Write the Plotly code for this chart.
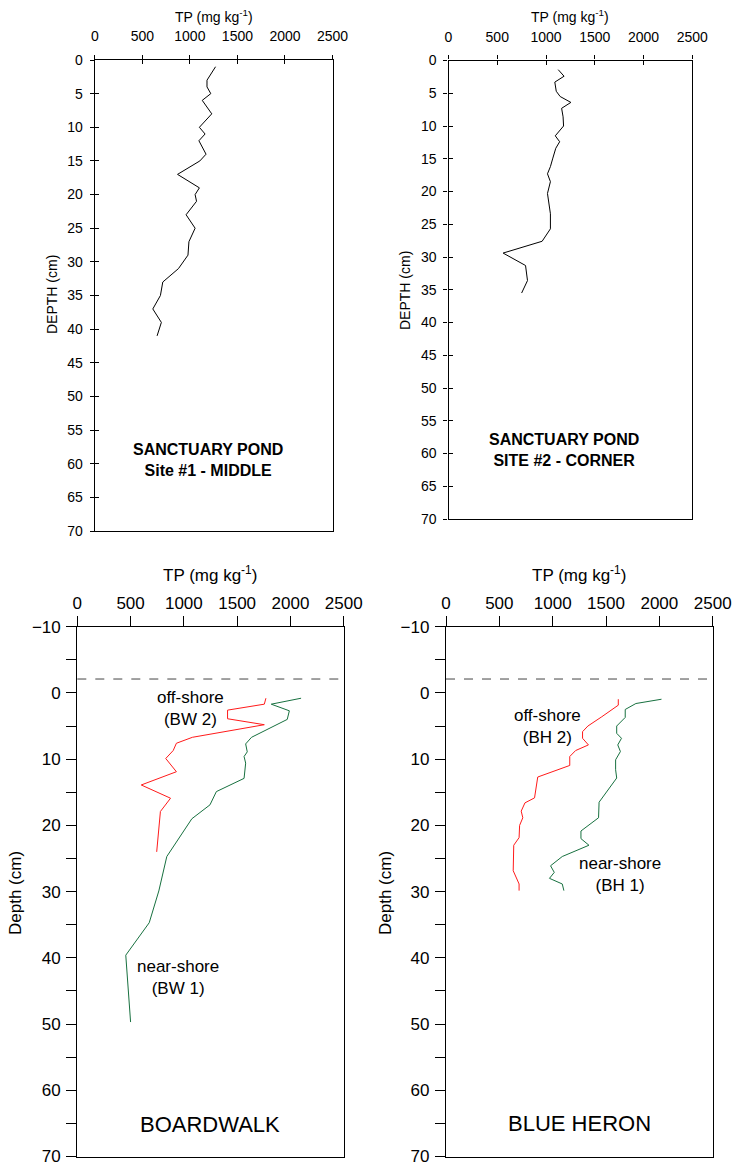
import plotly.graph_objects as go

# ---------------- data ----------------
tl_depth = [1, 3, 4, 5, 6, 8, 10, 11, 12, 14, 15, 17, 19, 20, 21, 23, 25, 27, 29, 31, 33, 35, 37, 39, 41]
tl_tp = [1270, 1180, 1180, 1220, 1130, 1230, 1100, 1160, 1095, 1170, 1105, 870, 1100, 1055, 1070, 960,
         1055, 990, 980, 880, 715, 690, 610, 700, 655]

tr_depth = [1.4, 2.4, 3.3, 4.7, 5.5, 6.4, 7.3, 8.6, 10.0, 11.5, 12.4, 13.4, 14.9, 16.2, 17.3, 18.5, 20.3,
            23.4, 25.7, 27.6, 29.4, 31.3, 33.6, 35.5]
tr_tp = [1125, 1185, 1090, 1105, 1145, 1255, 1160, 1175, 1180, 1095, 1140, 1100, 1070, 1045, 1015, 1045,
         1015, 1045, 1045, 960, 560, 790, 810, 750]

bw2_depth = [0.8, 1.7, 2.6, 3.9, 4.8, 6.7, 7.6, 8.7, 9.9, 11.9, 13.9, 15.9, 17.9, 24.0]
bw2_tp = [1770, 1755, 1410, 1410, 1755, 1080, 930, 900, 830, 930, 600, 875, 780, 745]

bw1_depth = [0.8, 1.7, 2.7, 4.0, 6.7, 7.7, 8.9, 9.6, 10.6, 12.9, 14.9, 16.9, 19.0, 24.7, 29.9, 34.7,
             39.6, 44.6, 49.7]
bw1_tp = [2100, 1820, 1990, 1970, 1635, 1580, 1595, 1565, 1580, 1565, 1305, 1245, 1075, 840, 765, 675,
          455, 475, 500]

bh2_depth = [0.95, 1.85, 3.6, 5.0, 5.85, 6.85, 7.85, 8.7, 9.6, 10.95, 12.7, 15.85, 16.6, 17.85, 18.85,
             20.0, 21.85, 23.0, 26.85, 27.85, 28.85, 29.85]
bh2_tp = [1615, 1615, 1460, 1330, 1280, 1280, 1335, 1215, 1160, 1160, 860, 830, 740, 705, 720, 690,
          685, 635, 630, 655, 685, 685]

bh1_depth = [0.95, 1.6, 2.5, 3.7, 5.0, 6.1, 6.85, 7.85, 8.85, 10.1, 11.6, 12.85, 16.5, 18.85, 20.85,
             22.0, 23.0, 24.7, 26.1, 27.1, 28.0, 28.85, 29.85]
bh1_tp = [2020, 1780, 1680, 1680, 1600, 1600, 1645, 1610, 1635, 1590, 1590, 1600, 1435, 1430, 1265,
          1265, 1340, 1090, 980, 1015, 970, 1090, 1105]

water_depth = -2.1
tp_range = [0, 2500]
tp_ticks = [0, 500, 1000, 1500, 2000, 2500]

# ---------------- layout helpers ----------------
W, H = 735, 1166
FONT = "Liberation Sans, Arial, Helvetica, sans-serif"


def px_x(a, b):
    return [a / W, b / W]


def px_y(top, bottom):
    return [1 - bottom / H, 1 - top / H]


dom = {
    1: (px_x(94.8, 332.5), px_y(60, 531)),
    2: (px_x(448.5, 692.3), px_y(60.5, 519)),
    3: (px_x(77.3, 343.7), px_y(626.7, 1156.5)),
    4: (px_x(446, 712.7), px_y(626.7, 1156.5)),
}

fig = go.Figure()

BLACK = "#000000"
RED = "#ff1a1a"
GREEN = "#17703f"

fig.add_trace(go.Scatter(x=tl_tp, y=tl_depth, mode="lines", line=dict(color=BLACK, width=1),
                         xaxis="x", yaxis="y", showlegend=False))
fig.add_trace(go.Scatter(x=tr_tp, y=tr_depth, mode="lines", line=dict(color=BLACK, width=1),
                         xaxis="x2", yaxis="y2", showlegend=False))
fig.add_trace(go.Scatter(x=bw2_tp, y=bw2_depth, mode="lines", line=dict(color=RED, width=1),
                         xaxis="x3", yaxis="y3", showlegend=False))
fig.add_trace(go.Scatter(x=bw1_tp, y=bw1_depth, mode="lines", line=dict(color=GREEN, width=1),
                         xaxis="x3", yaxis="y3", showlegend=False))
fig.add_trace(go.Scatter(x=bh2_tp, y=bh2_depth, mode="lines", line=dict(color=RED, width=1),
                         xaxis="x4", yaxis="y4", showlegend=False))
fig.add_trace(go.Scatter(x=bh1_tp, y=bh1_depth, mode="lines", line=dict(color=GREEN, width=1),
                         xaxis="x4", yaxis="y4", showlegend=False))
# dummy traces for the inner-tick overlay axes of top panels
fig.add_trace(go.Scatter(x=[], y=[], xaxis="x5", yaxis="y5", showlegend=False))
fig.add_trace(go.Scatter(x=[], y=[], xaxis="x6", yaxis="y6", showlegend=False))

layout = dict(
    width=W, height=H, autosize=False, margin=dict(l=0, r=0, t=0, b=0, autoexpand=False),
    paper_bgcolor="white", plot_bgcolor="white",
    font=dict(family=FONT, color="black"),
    showlegend=False,
)

# top panels
for i in (1, 2):
    xd, yd = dom[i]
    s = "" if i == 1 else str(i)
    layout["xaxis" + s] = dict(domain=xd, anchor="y" + s, side="top", range=tp_range, tickvals=tp_ticks,
                               ticks="outside", ticklen=4, tickwidth=1, tickcolor="black",
                               showline=True, linecolor="black", linewidth=1.3, mirror=True,
                               showgrid=False, zeroline=False, tickfont=dict(size=14),
                               ticklabelstandoff=8, fixedrange=True, automargin=False,
                               ticklabeloverflow="allow")
    layout["yaxis" + s] = dict(domain=yd, anchor="x" + s, range=[70, 0], dtick=5, tick0=0,
                               ticks="outside", ticklen=4, tickwidth=1, tickcolor="black",
                               showline=True, linecolor="black", linewidth=1.3, mirror=True,
                               showgrid=False, zeroline=False, tickfont=dict(size=14),
                               ticklabelstandoff=4, fixedrange=True, automargin=False,
                               ticklabeloverflow="allow")
    o = str(i + 4)
    layout["xaxis" + o] = dict(domain=xd, anchor="y" + o, overlaying="x" + s, side="top", range=tp_range,
                               tickvals=tp_ticks, ticks="inside", ticklen=4, tickwidth=1, tickcolor="black",
                               showticklabels=False, showline=False, showgrid=False, zeroline=False,
                               fixedrange=True, automargin=False)
    layout["yaxis" + o] = dict(domain=yd, anchor="x" + o, overlaying="y" + s, side="left", range=[70, 0],
                               dtick=5, tick0=0, ticks="inside", ticklen=4, tickwidth=1, tickcolor="black",
                               showticklabels=False, showline=False, showgrid=False, zeroline=False,
                               fixedrange=True, automargin=False)

# bottom panels
for i in (3, 4):
    xd, yd = dom[i]
    s = str(i)
    layout["xaxis" + s] = dict(domain=xd, anchor="y" + s, side="top", range=tp_range, tickvals=tp_ticks,
                               ticks="outside", ticklen=10, tickwidth=1, tickcolor="black",
                               showline=True, linecolor="black", linewidth=1.3, mirror=True,
                               showgrid=False, zeroline=False, tickfont=dict(size=17), fixedrange=True,
                               automargin=False, ticklabeloverflow="allow")
    layout["yaxis" + s] = dict(domain=yd, anchor="x" + s, range=[70, -10], dtick=10, tick0=0,
                               ticks="outside", ticklen=10, tickwidth=1, tickcolor="black",
                               minor=dict(dtick=5, tick0=0, ticks="outside", ticklen=10, tickwidth=1,
                                          tickcolor="black", showgrid=False),
                               showline=True, linecolor="black", linewidth=1.3, mirror=True,
                               showgrid=False, zeroline=False, tickfont=dict(size=17),
                               ticklabelstandoff=2, fixedrange=True, automargin=False,
                               ticklabeloverflow="allow")

fig.update_layout(**layout)

# dashed water line in bottom panels
for i in (3, 4):
    fig.add_shape(type="line", xref=f"x{i} domain", yref=f"y{i}", x0=0, x1=1, y0=water_depth,
                  y1=water_depth, line=dict(color="#444444", width=1, dash="dash"))

ann = []
tp_title = "TP (mg kg<sup>-1</sup>)"
# x-axis titles
ann.append(dict(text=tp_title, x=(94.8 + 332.5) / 2 / W, y=1 - 16 / H, font=dict(size=14)))
ann.append(dict(text=tp_title, x=(448.5 + 692.3) / 2 / W, y=1 - 16 / H, font=dict(size=14)))
ann.append(dict(text=tp_title, x=(77.3 + 343.7) / 2 / W, y=1 - 574 / H, font=dict(size=17)))
ann.append(dict(text=tp_title, x=(446 + 712.7) / 2 / W, y=1 - 574 / H, font=dict(size=17)))
# y-axis titles
ann.append(dict(text="DEPTH (cm)", x=52 / W, y=1 - 295 / H, textangle=-90, font=dict(size=14)))
ann.append(dict(text="DEPTH (cm)", x=405 / W, y=1 - 290 / H, textangle=-90, font=dict(size=14)))
ann.append(dict(text="Depth (cm)", x=15 / W, y=1 - 893 / H, textangle=-90, font=dict(size=17)))
ann.append(dict(text="Depth (cm)", x=385 / W, y=1 - 893 / H, textangle=-90, font=dict(size=17)))
for a in ann:
    a.update(xref="paper", yref="paper", showarrow=False, xanchor="center", yanchor="middle")

# in-panel labels (data coordinates)
ann.append(dict(text="<b>SANCTUARY POND<br>Site #1 - MIDDLE</b>", x=1190, y=59.5, xref="x", yref="y",
                font=dict(size=16)))
ann.append(dict(text="<b>SANCTUARY POND<br>SITE #2 - CORNER</b>", x=1186, y=59.4, xref="x2", yref="y2",
                font=dict(size=16)))
ann.append(dict(text="off-shore<br>(BW 2)", x=1058, y=2.3, xref="x3", yref="y3", font=dict(size=17)))
ann.append(dict(text="near-shore<br>(BW 1)", x=948, y=42.9, xref="x3", yref="y3", font=dict(size=17)))
ann.append(dict(text="BOARDWALK", x=1245, y=65.1, xref="x3", yref="y3", font=dict(size=22)))
ann.append(dict(text="off-shore<br>(BH 2)", x=950, y=5.0, xref="x4", yref="y4", font=dict(size=17)))
ann.append(dict(text="near-shore<br>(BH 1)", x=1632, y=27.4, xref="x4", yref="y4", font=dict(size=17)))
ann.append(dict(text="BLUE HERON", x=1256, y=65.0, xref="x4", yref="y4", font=dict(size=22)))
for a in ann[8:]:
    a.update(showarrow=False, xanchor="center", yanchor="middle")

fig.update_layout(annotations=ann)

fig.write_html("out.html", config={"displayModeBar": False},
               post_script="document.body.style.margin='0px';document.body.style.overflow='hidden';")
